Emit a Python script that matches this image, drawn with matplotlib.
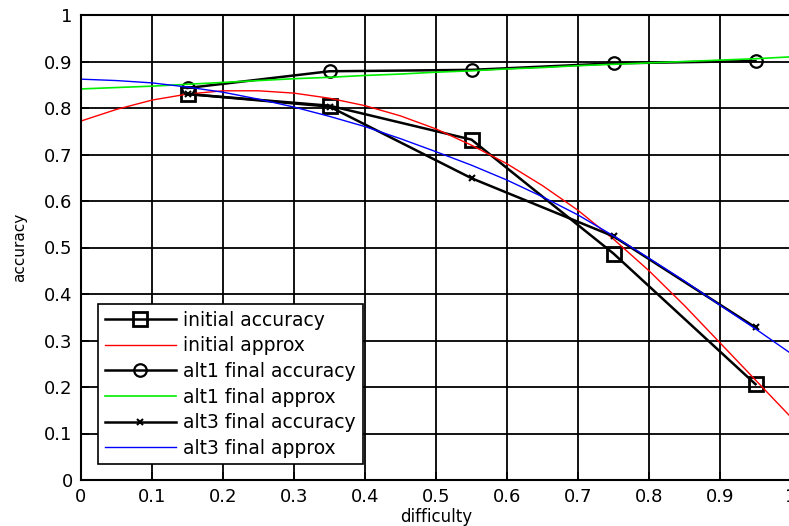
import matplotlib
matplotlib.use("Agg")
import matplotlib.pyplot as plt

plt.rcParams['font.family'] = ['DejaVu Sans']

# measured accuracies at each difficulty level
difficulty = [0.15, 0.35, 0.55, 0.75, 0.95]
initial_accuracy = [0.830, 0.805, 0.732, 0.487, 0.206]
alt1_final_accuracy = [0.843, 0.879, 0.882, 0.896, 0.901]
alt3_final_accuracy = [0.830, 0.803, 0.649, 0.524, 0.328]

# fitted curves
fit_x = [0.0, 0.05, 0.1, 0.15, 0.2, 0.25, 0.3, 0.35, 0.4, 0.45, 0.5,
         0.55, 0.6, 0.65, 0.7, 0.75, 0.8, 0.85, 0.9, 0.95, 1.0]
initial_approx = [0.772, 0.797, 0.817, 0.830, 0.837, 0.837, 0.832, 0.821, 0.805, 0.783, 0.755,
                  0.720, 0.680, 0.633, 0.580, 0.518, 0.450, 0.375, 0.295, 0.215, 0.135]
alt1_approx = [0.841, 0.844, 0.847, 0.851, 0.855, 0.859, 0.863, 0.866, 0.870, 0.873, 0.877,
               0.880, 0.884, 0.887, 0.891, 0.894, 0.897, 0.900, 0.903, 0.906, 0.910]
alt3_approx = [0.862, 0.859, 0.854, 0.845, 0.834, 0.819, 0.802, 0.782, 0.760, 0.734, 0.706,
               0.677, 0.645, 0.609, 0.570, 0.525, 0.477, 0.428, 0.376, 0.325, 0.272]

ticks = [0, 0.1, 0.2, 0.3, 0.4, 0.5, 0.6, 0.7, 0.8, 0.9, 1]
tick_labels = ['0', '0.1', '0.2', '0.3', '0.4', '0.5', '0.6', '0.7', '0.8', '0.9', '1']

fig = plt.figure(figsize=(7.89, 5.26), dpi=100)
ax = fig.add_axes([81 / 789, 46 / 526, 710 / 789, 465 / 526])

ax.plot(difficulty, initial_accuracy, color='black', lw=1.8, marker='s',
        ms=10, mfc='none', mew=2, label='initial accuracy')
ax.plot(fit_x, initial_approx, color='red', lw=1, label='initial approx')
ax.plot(difficulty, alt1_final_accuracy, color='black', lw=1.8, marker='o',
        ms=9, mfc='none', mew=1.6, label='alt1 final accuracy')
ax.plot(fit_x, alt1_approx, color='#00ee00', lw=1.2, label='alt1 final approx')
ax.plot(difficulty, alt3_final_accuracy, color='black', lw=1.8, marker='x',
        ms=4, mew=1.5, label='alt3 final accuracy')
ax.plot(fit_x, alt3_approx, color='blue', lw=1, label='alt3 final approx')

ax.set_xlim(0, 1)
ax.set_ylim(0, 1)
ax.set_xticks(ticks)
ax.set_xticklabels(tick_labels)
ax.set_yticks(ticks)
ax.set_yticklabels(tick_labels)
ax.tick_params(direction='in', length=6, width=1.2, labelsize=13, pad=6, colors='black')
ax.set_axisbelow(True)
ax.grid(True, color='black', linestyle='-', linewidth=1.3)
for s in ax.spines.values():
    s.set_linewidth(1.5)

ax.set_xlabel('difficulty', fontsize=12, labelpad=1)
ax.set_ylabel('accuracy', fontsize=11, labelpad=12)

leg = ax.legend(loc='lower left', bbox_to_anchor=(0.024, 0.034), borderaxespad=0,
                fontsize=13.5, fancybox=False, framealpha=1, edgecolor='black',
                handlelength=3.8, handletextpad=0.4, labelspacing=0.35,
                borderpad=0.35)
leg.get_frame().set_linewidth(1.2)

fig.savefig('out.png', dpi=100)
